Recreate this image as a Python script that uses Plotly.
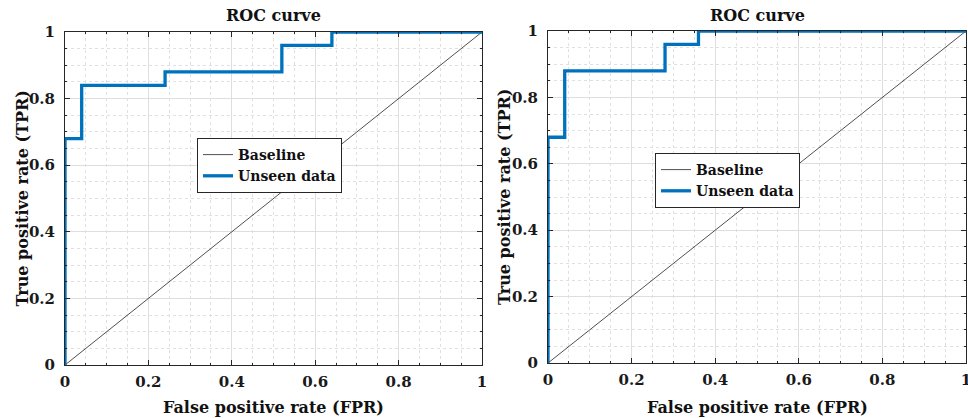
import plotly.graph_objects as go

# Data
baseline_x = [0, 1]
baseline_y = [0, 1]
left_fpr = [0, 0, 0.04, 0.04, 0.24, 0.24, 0.52, 0.52, 0.64, 0.64, 1]
left_tpr = [0, 0.68, 0.68, 0.84, 0.84, 0.88, 0.88, 0.96, 0.96, 1, 1]
right_fpr = [0, 0, 0.04, 0.04, 0.28, 0.28, 0.36, 0.36, 1]
right_tpr = [0, 0.68, 0.68, 0.88, 0.88, 0.96, 0.96, 1, 1]
tick_vals = [0, 0.2, 0.4, 0.6, 0.8, 1]
tick_text = ["0", "0.2", "0.4", "0.6", "0.8", "1"]
title_text = "ROC curve"
x_title = "False positive rate (FPR)"
y_title = "True positive rate (TPR)"

FONT = "DejaVu Serif"
BLUE = "#0072BD"
W, H = 968, 418

fig = go.Figure()

panels = [
    dict(xa="x", ya="y", fx=left_fpr, fy=left_tpr, legend="legend"),
    dict(xa="x2", ya="y2", fx=right_fpr, fy=right_tpr, legend="legend2"),
]
for p in panels:
    fig.add_trace(go.Scatter(x=baseline_x, y=baseline_y, mode="lines", name="Baseline",
                             line=dict(color="#222222", width=0.8), xaxis=p["xa"], yaxis=p["ya"],
                             legend=p["legend"]))
    fig.add_trace(go.Scatter(x=p["fx"], y=p["fy"], mode="lines", name="Unseen data",
                             line=dict(color=BLUE, width=3.3), xaxis=p["xa"], yaxis=p["ya"],
                             legend=p["legend"]))

# pixel geometry
L = dict(x0=65, x1=482, y0=32, y1=365)
R = dict(x0=548, x1=966, y0=31, y1=363)

def px(xp):
    return xp / W

def py(yp):
    return (H - yp) / H

def axis_common(domain, standoff):
    return dict(
        domain=domain, range=[0, 1], tickvals=tick_vals, ticktext=tick_text,
        showline=True, linecolor="#262626", linewidth=1, mirror="ticks",
        ticks="inside", ticklen=5, tickcolor="#262626", ticklabelstandoff=standoff,
        ticklabeloverflow="allow",
        showgrid=True, gridcolor="#dedede", gridwidth=1,
        zeroline=False, fixedrange=True, automargin=False,
        tickfont=dict(family=FONT, size=15, color="#1a1a1a", weight="bold"),
        minor=dict(dtick=0.05, tick0=0, showgrid=True, gridcolor="#e0e0e0",
                   griddash="dot", gridwidth=1, ticks="inside", ticklen=2,
                   tickcolor="#262626"),
    )

layout = dict(
    width=W, height=H, margin=dict(l=0, r=0, t=0, b=0, autoexpand=False),
    paper_bgcolor="white", plot_bgcolor="white",
    xaxis=dict(**axis_common([px(L["x0"]), px(L["x1"])], 3), anchor="y"),
    yaxis=dict(**axis_common([py(L["y1"]), py(L["y0"])], 6), anchor="x"),
    xaxis2=dict(**axis_common([px(R["x0"]), px(R["x1"])], 3), anchor="y2"),
    yaxis2=dict(**axis_common([py(R["y1"]), py(R["y0"])], 6), anchor="x2"),
    showlegend=True,
)
legend_style = dict(
    bgcolor="white", bordercolor="#262626", borderwidth=1,
    font=dict(family=FONT, size=14, color="#111111", weight="bold"),
    xanchor="left", yanchor="top", tracegroupgap=0, itemwidth=30,
)
layout["legend"] = dict(**legend_style, x=px(197), y=py(138))
layout["legend2"] = dict(**legend_style, x=px(655), y=py(153))
fig.update_layout(**layout)

title_font = dict(family=FONT, size=16, color="#111111", weight="bold")
label_font = dict(family=FONT, size=16, color="#111111", weight="bold")
for g in (L, R):
    cx = (g["x0"] + g["x1"]) / 2
    fig.add_annotation(text=title_text, x=px(cx), y=py(16), xref="paper", yref="paper",
                       showarrow=False, font=title_font, xanchor="center", yanchor="middle")
    fig.add_annotation(text=x_title, x=px(cx), y=py(407), xref="paper", yref="paper",
                       showarrow=False, font=label_font, xanchor="center", yanchor="middle")
    fig.add_annotation(text=y_title, x=px(g["x0"] - 43), y=py((g["y0"] + g["y1"]) / 2),
                       xref="paper", yref="paper", textangle=-90,
                       showarrow=False, font=label_font, xanchor="center", yanchor="middle")

fig.write_html("out.html", config={"displayModeBar": False},
               post_script="document.body.style.margin='0';document.body.style.overflow='hidden';")
